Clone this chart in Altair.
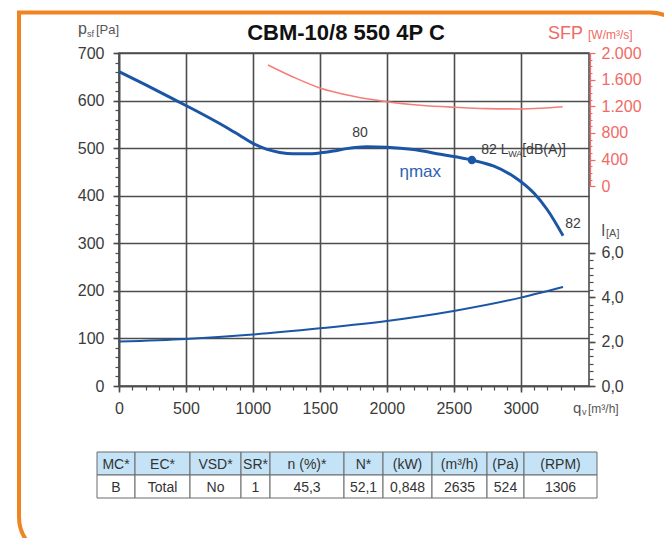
import altair as alt
import pandas as pd

# ---------------- data ----------------
Q_P = [0, 200, 400, 600, 800, 900, 1000, 1100, 1200, 1300, 1400, 1500, 1600, 1700, 1850, 2000, 2200, 2400, 2635, 2800, 2950, 3100, 3200, 3316]
P_SF = [661, 633, 604, 575, 544, 527, 510, 498, 491, 488, 488, 490, 494, 499, 503, 502, 497, 487, 475, 462, 440, 405, 370, 316]

Q_I = [0, 500, 1000, 1500, 2000, 2500, 3000, 3316]
CURRENT = [2.0, 2.12, 2.32, 2.6, 2.93, 3.38, 3.98, 4.46]

Q_SFP = [1112, 1300, 1500, 1750, 2000, 2250, 2500, 2750, 3000, 3150, 3313]
SFP = [1820, 1640, 1475, 1350, 1268, 1215, 1185, 1165, 1160, 1170, 1192]

ETA_Q = [2635]
ETA_P = [475]

X_TICKS = [0, 500, 1000, 1500, 2000, 2500, 3000]
X_MINOR = list(range(0, 3401, 100))
P_TICKS = [0, 100, 200, 300, 400, 500, 600, 700]
P_MINOR = list(range(0, 701, 20))
SFP_TICKS = [0, 400, 800, 1200, 1600, 2000]
SFP_MINOR = list(range(0, 2001, 100))
I_TICKS = [0, 2, 4, 6]
I_MINOR = [i / 3 for i in range(19)]

TABLE_HEADERS = ["MC*", "EC*", "VSD*", "SR*", "n (%)*", "N*", "(kW)", "(m³/h)", "(Pa)", "(RPM)"]
TABLE_VALUES = ["B", "Total", "No", "1", "45,3", "52,1", "0,848", "2635", "524", "1306"]

TITLE = "CBM-10/8 550 4P C"

# ---------------- layout / style ----------------
W, H = 470, 333
X_DOMAIN = [0, 3510]
P_DOMAIN = [0, 700]
SFP_DOMAIN = [-3000, 2000]
I_DOMAIN = [0, 15]

GRID = "#4d4d4d"
BLUE = "#1b55a6"
RED = "#f06a66"
RED_LINE = "#f47f7a"
ORANGE = "#f08322"
TEXT = "#3b3b3b"
FONT = "Liberation Sans"

COL_WIDTHS = [38, 55, 51, 29, 74, 39, 49, 55, 37, 73]
TABLE_LEFT = -22
ROW_EDGES = [399, 422, 445]


def xs(field, axis=None):
    return alt.X(f"{field}:Q", scale=alt.Scale(domain=X_DOMAIN, nice=False, zero=False), axis=axis)


def ys(field, domain, axis=None):
    return alt.Y(f"{field}:Q", scale=alt.Scale(domain=domain, nice=False, zero=False), axis=axis)


press_df = pd.DataFrame({"q": Q_P, "p": P_SF})
cur_df = pd.DataFrame({"q": Q_I, "i": CURRENT})
sfp_df = pd.DataFrame({"q": Q_SFP, "s": SFP})
eta_df = pd.DataFrame({"q": ETA_Q, "p": ETA_P})

axis_common = dict(labelFont=FONT, labelFontSize=16, labelColor=TEXT, title=None,
                   labelFlush=False, labelOverlap=False)

# main axes with grid (pressure curve)
x_major = alt.Axis(values=X_TICKS, orient="bottom", grid=True, gridColor=GRID, gridWidth=1.6,
                   domainColor=GRID, domainWidth=1.6, tickColor=GRID, tickWidth=1.6, tickSize=6,
                   labelPadding=8, format="d", **axis_common)
y_major = alt.Axis(values=P_TICKS, orient="left", grid=True, gridColor=GRID, gridWidth=1.6,
                   domainColor=GRID, domainWidth=1.6, tickColor=GRID, tickWidth=1.6, tickSize=6,
                   labelPadding=9, format="d", **axis_common)

pressure = alt.Chart(press_df).mark_line(color=BLUE, strokeWidth=3, interpolate="monotone").encode(
    x=xs("q", x_major), y=ys("p", P_DOMAIN, y_major))

x_minor_ax = alt.Axis(values=X_MINOR, orient="bottom", grid=False, domain=False, labels=False,
                      tickColor=GRID, tickSize=4, tickWidth=1.2, title=None)
y_minor_ax = alt.Axis(values=P_MINOR, orient="left", grid=False, domain=False, labels=False,
                      tickColor=GRID, tickSize=4, tickWidth=1.2, title=None)
minor = alt.Chart(press_df).mark_line(opacity=0).encode(
    x=xs("q", x_minor_ax), y=ys("p", P_DOMAIN, y_minor_ax))

# current
i_axis = alt.Axis(values=I_TICKS, orient="right", grid=False, domain=False, tickColor=GRID,
                  tickWidth=1.6, tickSize=6, labelPadding=6,
                  labelExpr="replace(format(datum.value, '.1f'), '.', ',')", **axis_common)
current = alt.Chart(cur_df).mark_line(color=BLUE, strokeWidth=2, interpolate="monotone").encode(
    x=xs("q"), y=ys("i", I_DOMAIN, i_axis))
i_minor_ax = alt.Axis(values=I_MINOR, orient="right", grid=False, domain=False, labels=False,
                      tickColor=GRID, tickSize=4, tickWidth=1.2, title=None)
current_minor = alt.Chart(cur_df).mark_line(opacity=0).encode(
    x=xs("q"), y=ys("i", I_DOMAIN, i_minor_ax))

# SFP
sfp_axis_common = dict(axis_common)
sfp_axis_common["labelColor"] = RED
s_axis = alt.Axis(values=SFP_TICKS, orient="right", grid=False, domain=False, tickColor=RED,
                  tickWidth=1.2, tickSize=6, labelPadding=6,
                  labelExpr="replace(format(datum.value, ','), ',', '.')", **sfp_axis_common)
sfp = alt.Chart(sfp_df).mark_line(color=RED_LINE, strokeWidth=1.6, interpolate="monotone").encode(
    x=xs("q"), y=ys("s", SFP_DOMAIN, s_axis))
s_minor_ax = alt.Axis(values=SFP_MINOR, orient="right", grid=False, domain=False, labels=False,
                      tickColor=RED, tickSize=3, tickWidth=1, title=None)
sfp_minor = alt.Chart(sfp_df).mark_line(opacity=0).encode(
    x=xs("q"), y=ys("s", SFP_DOMAIN, s_minor_ax))
sfp_rule_df = pd.DataFrame({"lo": [SFP_TICKS[0]], "hi": [SFP_TICKS[-1]]})
sfp_rule = alt.Chart(sfp_rule_df).mark_rule(color=RED, strokeWidth=1.2).encode(
    x=alt.value(W + 1.5), y=ys("lo", SFP_DOMAIN), y2="hi:Q")

# eta max point
eta = alt.Chart(eta_df).mark_point(filled=True, color=BLUE, size=70, opacity=1).encode(
    x=xs("q"), y=ys("p", P_DOMAIN))


def label_at(text, q, p, **mark):
    df = pd.DataFrame({"q": [q], "p": [p], "t": [text]})
    return alt.Chart(df).mark_text(font=FONT, **mark).encode(x=xs("q"), y=ys("p", P_DOMAIN), text="t:N")


def px_text(text, x, y, **mark):
    df = pd.DataFrame({"t": [text]})
    return alt.Chart(df).mark_text(font=FONT, **mark).encode(x=alt.value(x), y=alt.value(y), text="t:N")


annots = [
    label_at("80", 1800, 532, fontSize=14, color=TEXT),
    label_at("82 L", 2705, 497, fontSize=14, color=TEXT, align="left"),
    label_at("WA", 2705, 497, fontSize=9, color=TEXT, align="left", dx=27, dy=4),
    label_at("[dB(A)]", 2705, 497, fontSize=14, color=TEXT, align="left", dx=41),
    label_at("ηmax", 2250, 450, fontSize=17, color="#2d62b3"),
    label_at("82", 3390, 341, fontSize=14, color=TEXT),
]

titles = [
    px_text(TITLE, 227, -20, fontSize=22, fontWeight="bold", color="#111111"),
    px_text("p", -41, -19, fontSize=16, color="#555555", align="left", baseline="alphabetic"),
    px_text("sf", -32, -16, fontSize=9, color="#555555", align="left", baseline="alphabetic"),
    px_text("[Pa]", -23, -19, fontSize=13, color="#555555", align="left", baseline="alphabetic"),
    px_text("q", 454, 360, fontSize=15, color="#555555", align="left", baseline="alphabetic"),
    px_text("v", 463, 362, fontSize=9, color="#555555", align="left", baseline="alphabetic"),
    px_text("[m³/h]", 469, 360, fontSize=12, color="#555555", align="left", baseline="alphabetic"),
    px_text("SFP", 429, -14, fontSize=18, color=RED, align="left", baseline="alphabetic"),
    px_text("[W/m³/s]", 469, -14, fontSize=12, color=RED, align="left", baseline="alphabetic"),
    px_text("I", 482, 183, fontSize=16, color="#555555", align="left", baseline="alphabetic"),
    px_text("[A]", 487, 184, fontSize=11, color="#555555", align="left", baseline="alphabetic"),
]

# orange frame
frame = alt.Chart(pd.DataFrame({"k": [0]})).mark_rect(
    fillOpacity=0, stroke=ORANGE, strokeWidth=4,
    cornerRadiusTopRight=40, cornerRadiusBottomLeft=40, cornerRadiusBottomRight=40,
).encode(x=alt.value(-100), x2=alt.value(571), y=alt.value(-40.5), y2=alt.value(504))

# table
rows = []
for r, texts in enumerate([TABLE_HEADERS, TABLE_VALUES]):
    left = TABLE_LEFT
    for c, t in enumerate(texts):
        right = left + COL_WIDTHS[c]
        rows.append({"x0": left, "x1": right, "y0": ROW_EDGES[r], "y1": ROW_EDGES[r + 1],
                     "xc": (left + right) / 2, "yc": (ROW_EDGES[r] + ROW_EDGES[r + 1]) / 2 + 1,
                     "t": t, "fill": "#c4e3f6" if r == 0 else "#ffffff"})
        left = right
table_df = pd.DataFrame(rows)
table_cells = alt.Chart(table_df).mark_rect(stroke="#6a6a6a", strokeWidth=1).encode(
    x=alt.X("x0:Q", scale=None, axis=None), x2="x1:Q",
    y=alt.Y("y0:Q", scale=None, axis=None), y2="y1:Q",
    fill=alt.Fill("fill:N", scale=None))
table_text = alt.Chart(table_df).mark_text(font=FONT, fontSize=14, color="#333333").encode(
    x=alt.X("xc:Q", scale=None, axis=None), y=alt.Y("yc:Q", scale=None, axis=None), text="t:N")

layers = [frame, table_cells, table_text, minor, current_minor, sfp_minor, pressure, current, sfp,
          sfp_rule, eta] + annots + titles

chart = alt.layer(*layers).resolve_scale(x="independent", y="independent").properties(
    width=W, height=H,
    padding={"left": 111, "top": 45, "right": 75, "bottom": 152},
    autosize=alt.AutoSizeParams(type="none"),
).configure(font=FONT, view=alt.ViewConfig(stroke=GRID, strokeWidth=1.6))

chart.save("out.html", embed_options={"renderer": "svg", "actions": False})
